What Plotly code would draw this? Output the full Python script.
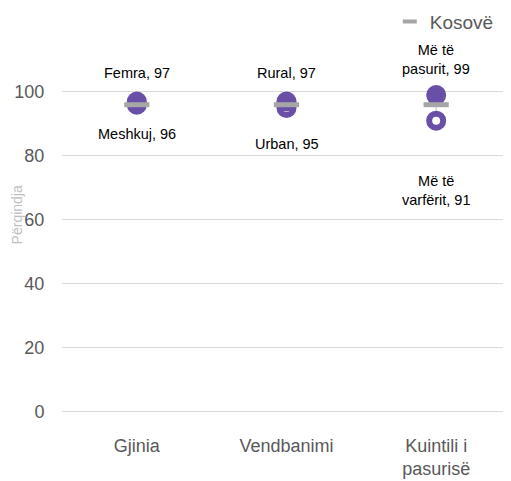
import plotly.graph_objects as go

categories = ["Gjinia", "Vendbanimi", "Kuintili i<br>pasurisë"]
high_values = [97, 97, 99]
low_values = [96, 95, 91]
kosovo_values = [96, 96, 96]
high_labels = ["Femra, 97", "Rural, 97", "Më të<br>pasurit, 99"]
low_labels = ["Meshkuj, 96", "Urban, 95", "Më të<br>varfërit, 91"]
y_ticks = [0, 20, 40, 60, 80, 100]

purple = "#6a4fa6"
grey = "#a6a6a6"
font = "Liberation Sans, Arial, sans-serif"

fig = go.Figure()

# thin high-low connectors
for cat, lo, hi in zip(categories, low_values, high_values):
    fig.add_trace(go.Scatter(
        x=[cat, cat], y=[lo, hi], mode="lines",
        line=dict(color="#bfbfbf", width=1),
        showlegend=False, hoverinfo="skip",
    ))

fig.add_trace(go.Scatter(
    x=categories, y=low_values, mode="markers", name="low",
    marker=dict(symbol="circle", size=14, color="white",
                line=dict(color=purple, width=6)),
    showlegend=False,
))
fig.add_trace(go.Scatter(
    x=categories, y=high_values, mode="markers", name="high",
    marker=dict(symbol="circle", size=20, color=purple, line=dict(width=0)),
    showlegend=False,
))
fig.add_trace(go.Scatter(
    x=categories, y=kosovo_values, mode="markers", name="Kosovë",
    marker=dict(symbol="line-ew", size=18, color=grey,
                line=dict(color=grey, width=5)),
    legendgroup="k", showlegend=False,
))
# legend entry (smaller dash than the chart marks)
fig.add_trace(go.Scatter(
    x=[None], y=[None], mode="markers", name="Kosovë",
    marker=dict(symbol="line-ew", size=10, color=grey,
                line=dict(color=grey, width=4)),
    legendgroup="k",
))

# data labels
high_pos = [106, 106, 110]
low_pos = [86.8, 83.7, 69]
for cat, txt, y in zip(categories, high_labels, high_pos):
    fig.add_annotation(x=cat, y=y, text=txt, showarrow=False,
                       font=dict(size=14.5, color="#000000", family=font))
for cat, txt, y in zip(categories, low_labels, low_pos):
    fig.add_annotation(x=cat, y=y, text=txt, showarrow=False,
                       font=dict(size=14.5, color="#000000", family=font))

fig.add_annotation(text="Përqindja", xref="paper", yref="paper",
                   x=-0.122, y=0.546, textangle=-90, showarrow=False,
                   font=dict(size=14, color="#bfbfbf", family=font))

# page body adds an 8px offset, so the figure is a bit smaller than the window
fig.update_layout(
    width=503, height=473,
    margin=dict(l=54, r=0, t=36, b=60, autoexpand=False),
    paper_bgcolor="white", plot_bgcolor="white",
    font=dict(family=font, color="#595959"),
    showlegend=True,
    legend=dict(x=0.73, y=1.059, xanchor="left", yanchor="middle",
                font=dict(size=19, color="#595959", family=font),
                bgcolor="rgba(0,0,0,0)", itemwidth=30),
    xaxis=dict(type="category", range=[-0.5, 2.5], showgrid=False,
               showline=False, ticks="outside", ticklen=8,
               tickcolor="rgba(0,0,0,0)",
               tickfont=dict(size=18, color="#595959")),
    yaxis=dict(range=[-3, 115], tickvals=y_ticks, showgrid=True,
               gridcolor="#d9d9d9", gridwidth=1, zeroline=False,
               showline=False, ticks="outside", ticklen=13,
               tickcolor="rgba(0,0,0,0)",
               tickfont=dict(size=18, color="#595959")),
)

fig.write_html("out.html")
